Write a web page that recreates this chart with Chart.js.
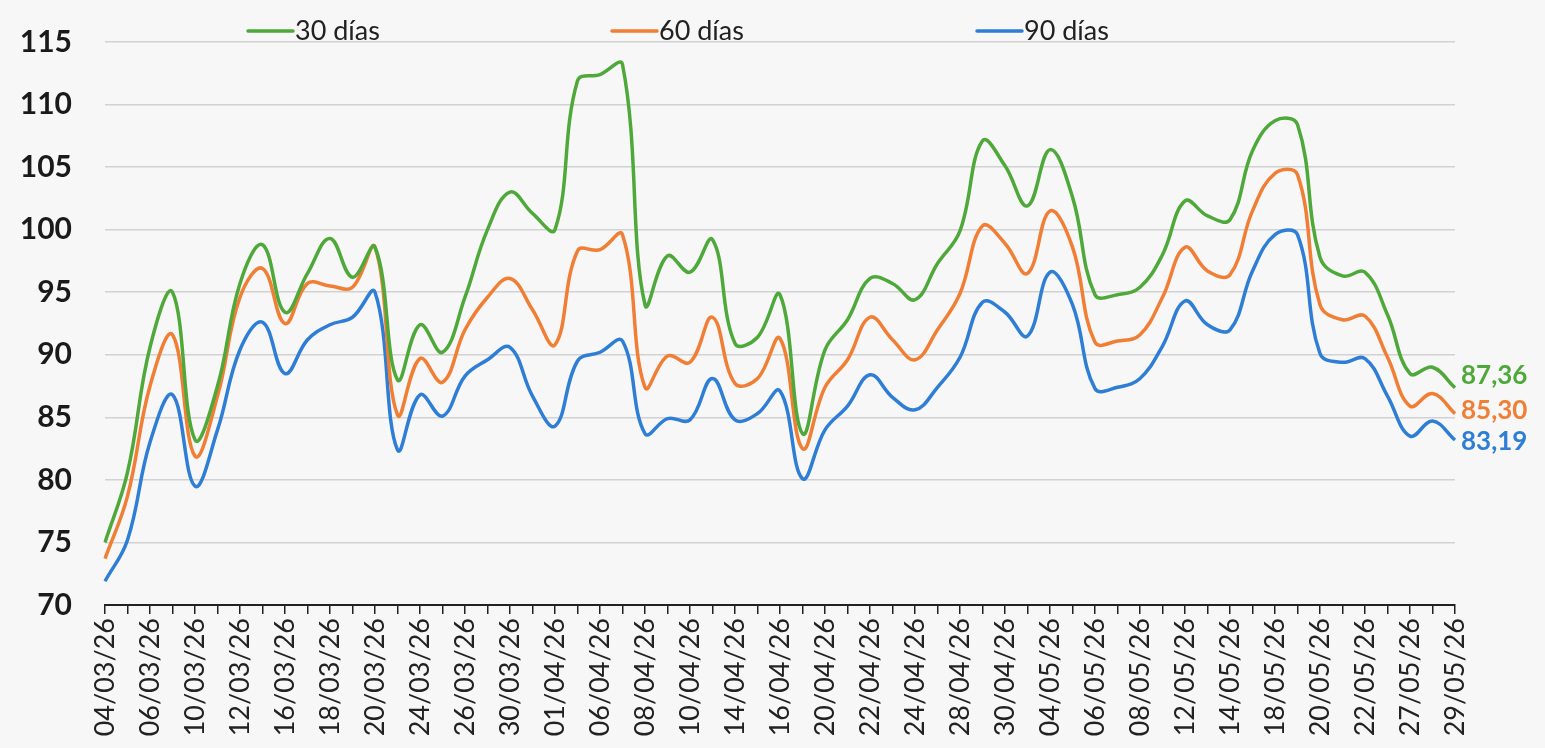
<!DOCTYPE html>
<html>
<head>
<meta charset="utf-8">
<script src="https://cdn.jsdelivr.net/npm/chart.js@4.4.1/dist/chart.umd.min.js"></script>
<style>
  html, body { margin: 0; padding: 0; background: #f7f7f7; }
  #wrap { width: 1545px; height: 748px; position: relative; }
</style>
</head>
<body>
<div id="wrap"><canvas id="c" width="1545" height="748"></canvas></div>
<script>
const dates = [
  '04/03/26','05/03/26','06/03/26','09/03/26','10/03/26','11/03/26','12/03/26','13/03/26',
  '16/03/26','17/03/26','18/03/26','19/03/26','20/03/26','23/03/26','24/03/26','25/03/26',
  '26/03/26','27/03/26','30/03/26','31/03/26','01/04/26','02/04/26','06/04/26','07/04/26',
  '08/04/26','09/04/26','10/04/26','13/04/26','14/04/26','15/04/26','16/04/26','17/04/26',
  '20/04/26','21/04/26','22/04/26','23/04/26','24/04/26','27/04/26','28/04/26','29/04/26',
  '30/04/26','01/05/26','04/05/26','05/05/26','06/05/26','07/05/26','08/05/26','11/05/26',
  '12/05/26','13/05/26','14/05/26','15/05/26','18/05/26','19/05/26','20/05/26','21/05/26',
  '22/05/26','26/05/26','27/05/26','28/05/26','29/05/26'
];

const dias30 = [
  75.0, 80.6, 90.6, 95.0, 83.2, 87.5, 95.7, 98.8, 93.4, 96.5,
  99.3, 96.2, 98.6, 88.0, 92.4, 90.2, 94.6, 100.0, 103.0, 101.3,
  100.0, 111.9, 112.4, 113.2, 94.0, 97.9, 96.6, 99.2, 90.9, 91.4,
  94.8, 83.7, 90.4, 92.8, 96.1, 95.7, 94.4, 97.3, 99.9, 107.1,
  105.1, 101.9, 106.4, 102.6, 94.8, 94.8, 95.4, 98.0, 102.3, 101.1,
  100.8, 106.3, 108.7, 108.4, 97.8, 96.3, 96.6, 93.2, 88.5, 89.0,
  87.36
];

const dias60 = [
  73.7, 78.7, 87.5, 91.6, 81.9, 86.7, 94.6, 96.9, 92.5, 95.7,
  95.5, 95.4, 98.6, 85.2, 89.7, 87.8, 92.0, 94.6, 96.1, 93.6,
  90.8, 98.3, 98.4, 99.6, 87.4, 89.9, 89.4, 93.0, 87.7, 88.1,
  91.3, 82.5, 87.4, 89.6, 93.0, 91.2, 89.6, 92.0, 94.9, 100.3,
  98.9, 96.5, 101.5, 98.6, 91.0, 91.1, 91.6, 94.6, 98.6, 96.7,
  96.4, 101.5, 104.5, 104.4, 94.0, 92.8, 93.1, 89.8, 85.9, 86.9,
  85.30
];

const dias90 = [
  71.9, 75.2, 83.0, 86.8, 79.5, 84.0, 90.4, 92.6, 88.5, 91.2,
  92.4, 93.0, 95.0, 82.4, 86.8, 85.1, 88.3, 89.6, 90.6, 86.7,
  84.3, 89.5, 90.2, 91.1, 83.7, 84.9, 84.8, 88.1, 84.8, 85.3,
  87.1, 80.1, 84.0, 85.9, 88.4, 86.6, 85.6, 87.4, 89.8, 94.2,
  93.4, 91.5, 96.6, 94.0, 87.3, 87.4, 88.1, 90.7, 94.3, 92.4,
  92.0, 96.7, 99.6, 99.6, 90.1, 89.4, 89.7, 86.7, 83.5, 84.7,
  83.19
];

const seriesNames = ['30 días', '60 días', '90 días'];
const seriesColors = ['#4fa83a', '#f07e35', '#2f7ed6'];
const yMin = 70, yMax = 115, yStep = 5;

const FONT = 'Lato, "Open Sans", "Noto Sans", sans-serif';

// Custom legend: line sample + text, spread across the top
const legendPlugin = {
  id: 'topLegend',
  afterDraw(chart) {
    const ctx = chart.ctx;
    const starts = [248, 612, 977];
    const y = 31;
    ctx.save();
    chart.data.datasets.forEach((ds, i) => {
      const x = starts[i];
      ctx.strokeStyle = ds.borderColor;
      ctx.lineWidth = 3.5;
      ctx.lineCap = 'round';
      ctx.beginPath();
      ctx.moveTo(x, y);
      ctx.lineTo(x + 45, y);
      ctx.stroke();
      ctx.fillStyle = '#222';
      ctx.font = '27px ' + FONT;
      ctx.textAlign = 'left';
      ctx.textBaseline = 'middle';
      ctx.fillText(ds.label, x + 47, y);
    });
    ctx.restore();
  }
};

// Last value labels at line ends
const endLabelPlugin = {
  id: 'endLabels',
  afterDatasetsDraw(chart) {
    const ctx = chart.ctx;
    const offsets = [-12, -3, 2];
    ctx.save();
    chart.data.datasets.forEach((ds, i) => {
      const meta = chart.getDatasetMeta(i);
      const pt = meta.data[meta.data.length - 1];
      const v = ds.data[ds.data.length - 1];
      ctx.fillStyle = ds.borderColor;
      ctx.font = 'bold 26px ' + FONT;
      ctx.textAlign = 'left';
      ctx.textBaseline = 'middle';
      ctx.fillText(v.toFixed(2).replace('.', ','), pt.x + 6, pt.y + offsets[i]);
    });
    ctx.restore();
  }
};

new Chart(document.getElementById('c'), {
  type: 'line',
  data: {
    labels: dates,
    datasets: [dias30, dias60, dias90].map((d, i) => ({
      label: seriesNames[i],
      data: d,
      borderColor: seriesColors[i],
      backgroundColor: seriesColors[i],
      borderWidth: 3.5,
      pointRadius: 0,
      tension: 0.4,
      fill: false
    }))
  },
  options: {
    responsive: false,
    animation: false,
    layout: { padding: { top: 42, right: 90, bottom: 0, left: 0 } },
    plugins: {
      legend: { display: false },
      tooltip: { enabled: false }
    },
    scales: {
      x: {
        offset: false,
        border: { display: true, color: '#222', width: 2 },
        grid: { drawOnChartArea: false, drawTicks: true, tickLength: 9, color: '#222', lineWidth: 1.5 },
        ticks: {
          autoSkip: false,
          minRotation: 90,
          maxRotation: 90,
          padding: 4,
          color: '#222',
          font: { family: FONT, size: 27 },
          callback: function(val, idx) { return idx % 2 === 0 ? this.getLabelForValue(val) : ''; }
        },
        afterFit(scale) { scale.height = 143; }
      },
      y: {
        min: yMin,
        max: yMax,
        border: { display: false },
        grid: { color: '#d2d2d2', lineWidth: 1.5, drawTicks: false },
        ticks: {
          stepSize: yStep,
          padding: 33,
          color: '#1a1a1a',
          font: { family: FONT, size: 30, weight: 'bold' }
        },
        afterFit(scale) {
          scale.width = 105;
          scale.paddingTop = 15;
          scale.paddingBottom = 15;
        }
      }
    }
  },
  plugins: [legendPlugin, endLabelPlugin]
});
</script>
</body>
</html>
